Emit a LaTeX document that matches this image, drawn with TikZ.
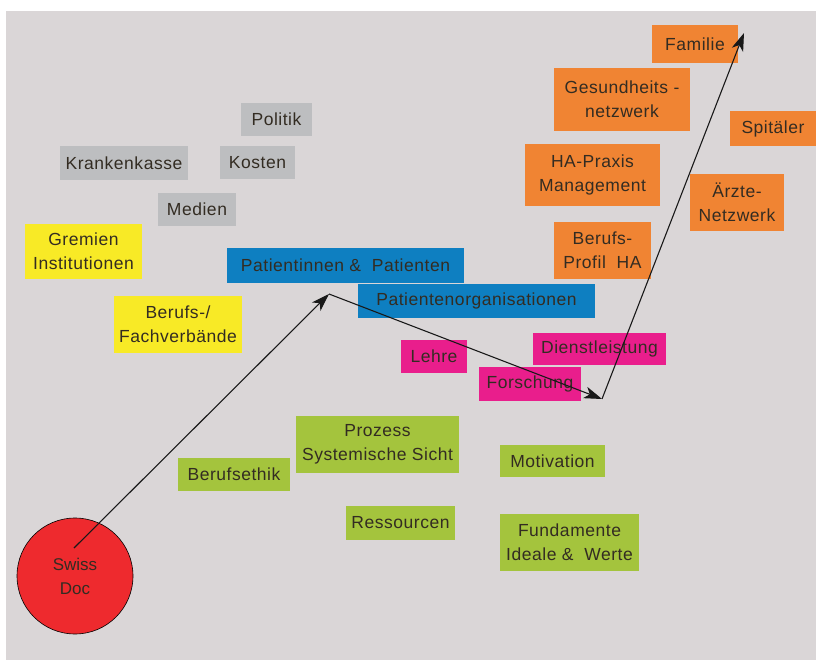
\documentclass[tikz,border=0pt]{standalone}
\usepackage{fontspec}
\setmainfont{Liberation Sans}
\newfontfamily\boxfont[LetterSpace=3]{Liberation Sans}
\usetikzlibrary{arrows.meta}
\definecolor{bgc}{HTML}{DAD6D7}
\definecolor{greyb}{HTML}{BDBEC0}
\definecolor{yellowb}{HTML}{F8EA26}
\definecolor{blueb}{HTML}{0E7FC1}
\definecolor{pinkb}{HTML}{E91E8C}
\definecolor{greenb}{HTML}{A4C43D}
\definecolor{orangeb}{HTML}{F08433}
\definecolor{redb}{HTML}{EE2A2E}
\definecolor{txt}{HTML}{332C22}
\tikzset{
  box/.style={rectangle, inner sep=0pt, align=center, text=txt,
    font=\boxfont\fontsize{17.5}{24}\selectfont},
  conn/.style={draw=black!90, line width=1.1pt,
    -{Stealth[length=18pt,width=12pt,inset=5pt]}}
}
\begin{document}
\begin{tikzpicture}[x=1pt,y=-1pt]
\useasboundingbox (0,0) rectangle (816,660);
\fill[bgc] (6,11) rectangle (816,660);
% grey
\node[box,fill=greyb,minimum width=71pt,minimum height=33pt] (politik) at (276.5,119.5) {Politik};
\node[box,fill=greyb,minimum width=128pt,minimum height=34pt] (kk) at (124,163) {Krankenkasse};
\node[box,fill=greyb,minimum width=75pt,minimum height=33pt] (kosten) at (257.5,162.5) {Kosten};
\node[box,fill=greyb,minimum width=78pt,minimum height=33pt] (medien) at (197,209.5) {Medien};
% yellow
\node[box,fill=yellowb,minimum width=117pt,minimum height=55pt] (gremien) at (83.5,251.5) {Gremien\\Institutionen};
\node[box,fill=yellowb,minimum width=128pt,minimum height=57pt] (fach) at (178,324.5) {Berufs-/\\Fachverbände};
% blue
\node[box,fill=blueb,minimum width=237pt,minimum height=35pt] (pat) at (345.5,265.5) {Patientinnen \&\ \ Patienten};
\node[box,fill=blueb,minimum width=237pt,minimum height=34pt] (porg) at (476.5,301) {Patientenorganisationen};
% pink
\node[box,fill=pinkb,minimum width=66pt,minimum height=33pt] (lehre) at (434,356.5) {Lehre};
\node[box,fill=pinkb,minimum width=133pt,minimum height=32pt] (dienst) at (599.5,349) {Dienstleistung};
\node[box,fill=pinkb,minimum width=102pt,minimum height=34pt] (forsch) at (530,384) {Forschung};
% green
\node[box,fill=greenb,minimum width=163pt,minimum height=57pt] (prozess) at (377.5,444.5) {Prozess\\Systemische Sicht};
\node[box,fill=greenb,minimum width=112pt,minimum height=33pt] (ethik) at (234,474.5) {Berufsethik};
\node[box,fill=greenb,minimum width=105pt,minimum height=32pt] (motiv) at (552.5,461) {Motivation};
\node[box,fill=greenb,minimum width=109pt,minimum height=34pt] (ress) at (400.5,523) {Ressourcen};
\node[box,fill=greenb,minimum width=139pt,minimum height=57pt] (fund) at (569.5,542.5) {Fundamente\\Ideale \&\ \ Werte};
% orange
\node[box,fill=orangeb,minimum width=86pt,minimum height=38pt] (familie) at (695,44) {Familie};
\node[box,fill=orangeb,minimum width=136pt,minimum height=63pt] (gesund) at (622,99.5) {Gesundheits -\\netzwerk};
\node[box,fill=orangeb,minimum width=86pt,minimum height=35pt] (spital) at (773,128.5) {Spitäler};
\node[box,fill=orangeb,minimum width=135pt,minimum height=62pt] (praxis) at (592.5,175) {HA-Praxis\\Management};
\node[box,fill=orangeb,minimum width=94pt,minimum height=57pt] (aerzte) at (737,202.5) {Ärzte-\\Netzwerk};
\node[box,fill=orangeb,minimum width=97pt,minimum height=57pt] (profil) at (602.5,250.5) {Berufs-\\Profil\ \ HA};
% circle
\node[circle,draw=black,line width=0.6pt,fill=redb,minimum size=116pt,inner sep=0pt,align=center,text=txt,
  font=\fontsize{17}{24}\selectfont] (swiss) at (75,576) {Swiss\\Doc};
% connectors
\coordinate (p0) at (74,548);
\coordinate (p1) at (329,294);
\coordinate (p2) at (602,399);
\coordinate (p3) at (744,33);
\draw[conn] (p0) -- (p1);
\draw[conn] (p1) -- (p2);
\draw[conn] (p2) -- (p3);
\end{tikzpicture}
\end{document}
